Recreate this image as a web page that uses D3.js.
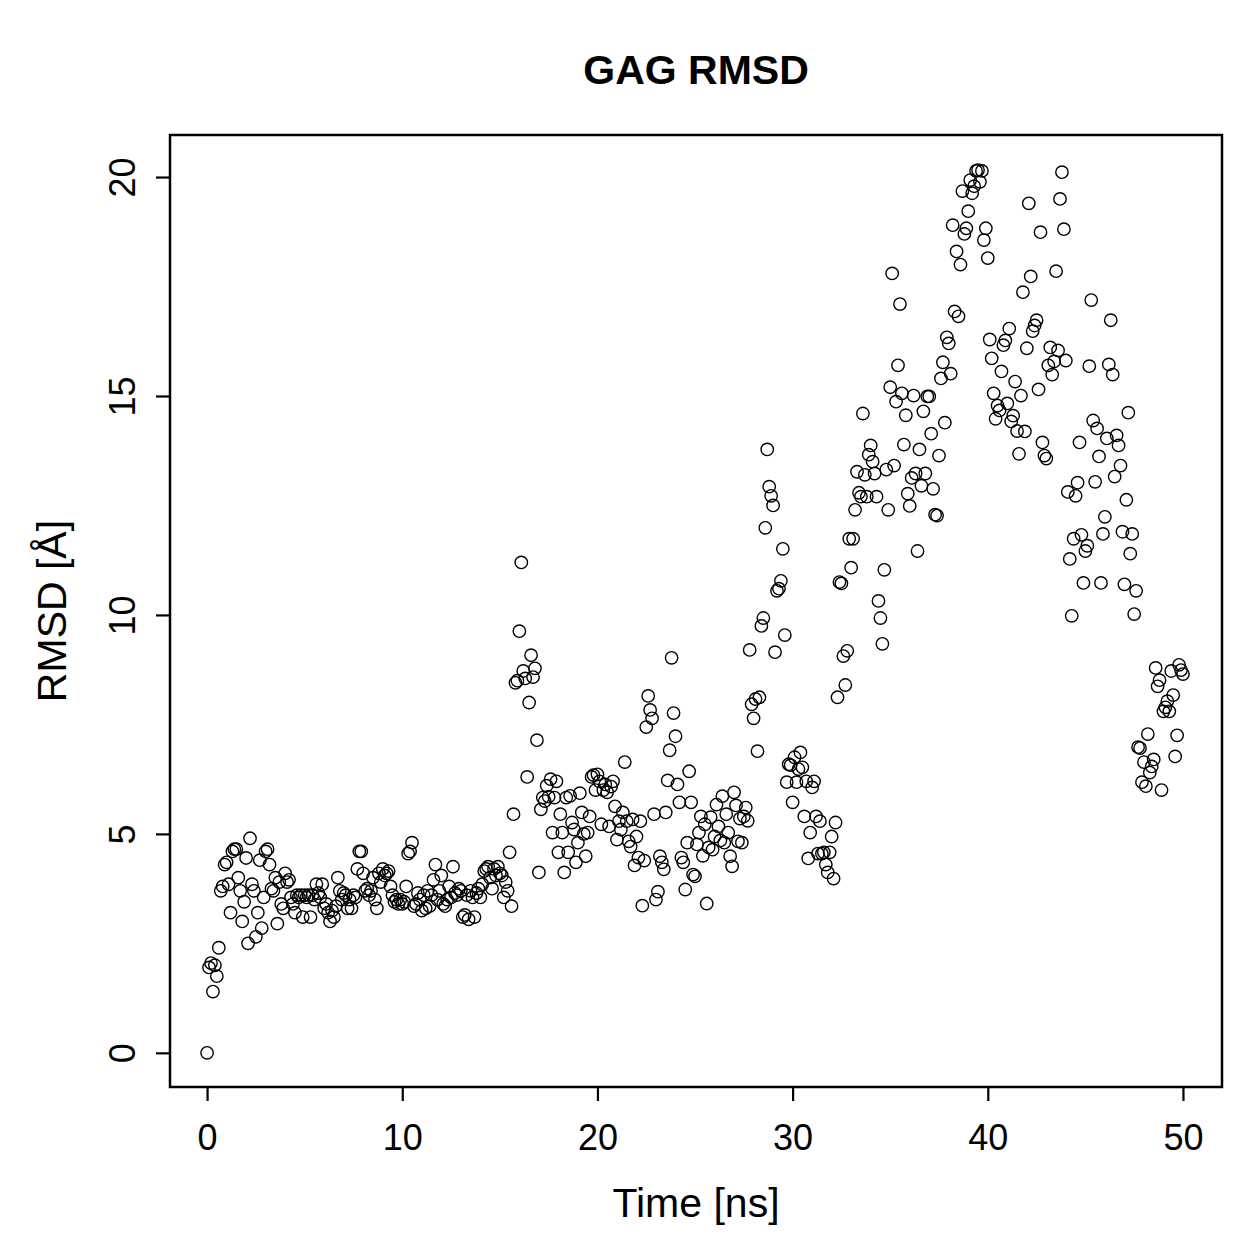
<!DOCTYPE html>
<html>
<head>
<meta charset="utf-8">
<script src="https://cdn.jsdelivr.net/npm/d3@7"></script>
<style>
  body { margin: 0; background: #fff; }
  text { font-family: "Liberation Sans", Arial, Helvetica, sans-serif; fill: #000; }
</style>
</head>
<body>
<div id="chart"></div>
<script>
// [time (ns), RMSD (Å)]
const rmsd0to10 = [
  [0.0,0.0],[0.1,1.95],[0.2,2.05],[0.3,1.4],[0.4,2.0],[0.5,1.75],[0.6,2.4],[0.7,3.7],[0.8,3.8],[0.9,4.3],
  [1.0,4.35],[1.1,3.85],[1.2,3.2],[1.3,4.6],[1.4,4.65],[1.5,4.65],[1.6,4.0],[1.7,3.7],[1.8,3.0],[1.9,3.45],
  [2.0,4.45],[2.1,2.5],[2.2,4.9],[2.3,3.85],[2.4,3.7],[2.5,2.65],[2.6,3.2],[2.7,4.4],[2.8,2.85],[2.9,3.55],
  [3.0,4.6],[3.1,4.65],[3.2,4.3],[3.3,3.75],[3.4,3.7],[3.5,4.0],[3.6,2.95],[3.7,3.9],[3.8,3.4],[3.9,3.3],
  [4.0,4.1],[4.1,3.9],[4.2,3.95],[4.3,3.55],[4.4,3.4],[4.5,3.2],[4.6,3.6],[4.7,3.55],[4.8,3.6],[4.9,3.1],
  [5.0,3.6],[5.1,3.55],[5.2,3.6],[5.3,3.1],[5.4,3.6],[5.5,3.5],[5.6,3.85],[5.7,3.65],[5.8,3.55],[5.9,3.85],
  [6.0,3.3],[6.1,3.4],[6.2,3.2],[6.3,3.0],[6.4,3.25],[6.5,3.1],[6.6,3.35],[6.7,4.0],[6.8,3.7],[6.9,3.5],
  [7.0,3.65],[7.1,3.6],[7.2,3.3],[7.3,3.5],[7.4,3.3],[7.5,3.6],[7.6,3.55],[7.7,4.2],[7.8,4.6],[7.9,4.6],
  [8.0,4.1],[8.1,3.7],[8.2,3.75],[8.3,3.6],[8.4,3.7],[8.5,4.0],[8.6,3.5],[8.7,3.3],[8.8,4.1],[8.9,3.9],
  [9.0,4.2],[9.1,4.05],[9.2,4.1],[9.3,4.15],[9.4,3.8],[9.5,3.6],[9.6,3.45],[9.7,3.5],[9.8,3.4],[9.9,3.5]
];

const rmsd10to20 = [
  [10.0,3.4],[10.1,3.45],[10.2,3.8],[10.3,4.55],[10.4,4.6],[10.5,4.8],[10.6,3.35],[10.7,3.4],[10.8,3.65],[10.9,3.5],
  [11.0,3.25],[11.1,3.6],[11.2,3.3],[11.3,3.7],[11.4,3.35],[11.5,3.6],[11.6,3.95],[11.7,4.3],[11.8,3.5],[11.9,3.7],
  [12.0,4.05],[12.1,3.4],[12.2,3.35],[12.3,3.5],[12.4,3.8],[12.5,3.55],[12.6,4.25],[12.7,3.65],[12.8,3.6],[12.9,3.75],
  [13.0,3.7],[13.1,3.1],[13.2,3.15],[13.3,3.6],[13.4,3.05],[13.5,3.7],[13.6,3.55],[13.7,3.1],[13.8,3.65],[13.9,3.75],
  [14.0,3.55],[14.1,3.85],[14.2,4.15],[14.3,4.2],[14.4,4.25],[14.5,4.0],[14.6,3.75],[14.7,4.2],[14.8,4.05],[14.9,4.25],
  [15.0,4.1],[15.1,4.05],[15.2,3.55],[15.3,3.9],[15.4,3.7],[15.5,4.58],[15.6,3.35],[15.7,5.45],[15.8,8.45],[15.9,8.5],
  [16.0,9.63],[16.1,11.2],[16.2,8.72],[16.3,8.55],[16.4,6.3],[16.5,8.0],[16.6,9.08],[16.7,8.58],[16.8,8.78],[16.9,7.14],
  [17.0,4.12],[17.1,5.56],[17.2,5.83],[17.3,5.75],[17.4,6.1],[17.5,5.85],[17.6,6.25],[17.7,5.03],[17.8,5.83],[17.9,6.2],
  [18.0,4.58],[18.1,5.45],[18.2,5.03],[18.3,4.12],[18.4,5.83],[18.5,4.58],[18.6,5.87],[18.7,5.26],[18.8,5.1],[18.9,4.35],
  [19.0,4.8],[19.1,5.93],[19.2,5.49],[19.3,5.0],[19.4,4.49],[19.5,5.03],[19.6,5.4],[19.7,6.3],[19.8,6.34],[19.9,6.0]
];

const rmsd20to30 = [
  [20.0,6.36],[20.1,6.2],[20.2,5.22],[20.3,6.0],[20.4,6.13],[20.5,5.95],[20.6,5.17],[20.7,6.08],[20.8,6.2],[20.9,5.63],
  [21.0,4.87],[21.1,5.29],[21.2,5.1],[21.3,5.49],[21.4,6.64],[21.5,5.29],[21.6,4.83],[21.7,4.71],[21.8,5.33],[21.9,4.28],
  [22.0,4.94],[22.1,4.46],[22.2,5.29],[22.3,3.36],[22.4,4.39],[22.5,7.44],[22.6,8.15],[22.7,7.83],[22.8,7.64],[22.9,5.45],
  [23.0,3.5],[23.1,3.68],[23.2,4.49],[23.3,4.35],[23.4,4.19],[23.5,5.49],[23.6,6.22],[23.7,6.91],[23.8,9.02],[23.9,7.76],
  [24.0,7.23],[24.1,6.13],[24.2,5.72],[24.3,4.46],[24.4,4.35],[24.5,3.73],[24.6,4.8],[24.7,6.43],[24.8,5.72],[24.9,4.07],
  [25.0,4.03],[25.1,4.76],[25.2,5.03],[25.3,5.4],[25.4,4.5],[25.5,5.22],[25.6,3.41],[25.7,4.69],[25.8,5.38],[25.9,4.64],
  [26.0,4.94],[26.1,5.67],[26.2,5.17],[26.3,4.85],[26.4,5.86],[26.5,4.8],[26.6,5.45],[26.7,5.03],[26.8,4.49],[26.9,4.26],
  [27.0,5.95],[27.1,5.65],[27.2,4.83],[27.3,5.35],[27.4,4.8],[27.5,5.4],[27.6,5.6],[27.7,5.3],[27.8,9.2],[27.9,7.96],
  [28.0,7.64],[28.1,8.08],[28.2,6.89],[28.3,8.12],[28.4,9.75],[28.5,9.93],[28.6,11.99],[28.7,13.78],[28.8,12.93],[28.9,12.72],
  [29.0,12.5],[29.1,9.15],[29.2,10.55],[29.3,10.6],[29.4,10.78],[29.5,11.51],[29.6,9.54],[29.7,6.18],[29.8,6.59],[29.9,6.57]
];

const rmsd30to40 = [
  [30.0,5.72],[30.1,6.75],[30.2,6.18],[30.3,6.48],[30.4,6.86],[30.5,6.52],[30.6,5.4],[30.7,6.2],[30.8,4.44],[30.9,5.03],
  [31.0,6.06],[31.1,6.2],[31.2,5.4],[31.3,4.55],[31.4,5.29],[31.5,4.55],[31.6,4.58],[31.7,4.3],[31.8,4.12],[31.9,4.58],
  [32.0,4.94],[32.1,3.98],[32.2,5.26],[32.3,8.12],[32.4,10.75],[32.5,10.72],[32.6,9.06],[32.7,8.4],[32.8,9.18],[32.9,11.74],
  [33.0,11.08],[33.1,11.74],[33.2,12.4],[33.3,13.27],[33.4,12.79],[33.5,12.7],[33.6,14.6],[33.7,13.2],[33.8,12.7],[33.9,13.66],
  [34.0,13.87],[34.1,13.5],[34.2,13.23],[34.3,12.7],[34.4,10.32],[34.5,9.93],[34.6,9.34],[34.7,11.03],[34.8,13.32],[34.9,12.4],
  [35.0,15.2],[35.1,17.8],[35.2,13.41],[35.3,14.87],[35.4,15.7],[35.5,17.1],[35.6,15.06],[35.7,13.89],[35.8,14.56],[35.9,12.77],
  [36.0,12.49],[36.1,13.13],[36.2,15.01],[36.3,13.23],[36.4,11.46],[36.5,13.78],[36.6,12.95],[36.7,14.65],[36.8,13.23],[36.9,14.99],
  [37.0,14.99],[37.1,14.14],[37.2,12.88],[37.3,12.29],[37.4,12.27],[37.5,13.64],[37.6,15.4],[37.7,15.77],[37.8,14.39],[37.9,16.34],
  [38.0,16.2],[38.1,15.51],[38.2,18.9],[38.3,16.93],[38.4,18.3],[38.5,16.82],[38.6,18.0],[38.7,19.68],[38.8,18.7],[38.9,18.83],
  [39.0,19.22],[39.1,19.93],[39.2,19.63],[39.3,19.79],[39.4,20.14],[39.5,20.16],[39.6,19.89],[39.7,20.14],[39.8,18.56],[39.9,18.83]
];

const rmsd40to50 = [
  [40.0,18.15],[40.1,16.29],[40.2,15.86],[40.3,15.06],[40.4,14.48],[40.5,14.78],[40.6,14.67],[40.7,15.56],[40.8,16.16],[40.9,16.27],
  [41.0,14.83],[41.1,16.54],[41.2,14.42],[41.3,14.55],[41.4,15.33],[41.5,14.2],[41.6,13.68],[41.7,15.01],[41.8,17.37],[41.9,14.19],
  [42.0,16.09],[42.1,19.4],[42.2,17.73],[42.3,16.48],[42.4,16.61],[42.5,16.73],[42.6,15.15],[42.7,18.74],[42.8,13.94],[42.9,13.64],
  [43.0,13.57],[43.1,15.7],[43.2,16.11],[43.3,15.49],[43.4,15.79],[43.5,17.85],[43.6,16.04],[43.7,19.5],[43.8,20.11],[43.9,18.81],
  [44.0,15.81],[44.1,12.81],[44.2,11.28],[44.3,9.98],[44.4,11.74],[44.5,12.72],[44.6,13.02],[44.7,13.94],[44.8,11.83],[44.9,10.73],
  [45.0,11.46],[45.1,11.58],[45.2,15.68],[45.3,17.19],[45.4,14.44],[45.5,13.04],[45.6,14.26],[45.7,13.62],[45.8,10.73],[45.9,11.85],
  [46.0,12.24],[46.1,14.03],[46.2,15.72],[46.3,16.73],[46.4,15.49],[46.5,13.16],[46.6,14.1],[46.7,13.87],[46.8,13.41],[46.9,11.9],
  [47.0,10.7],[47.1,12.63],[47.2,14.62],[47.3,11.4],[47.4,11.85],[47.5,10.02],[47.6,10.55],[47.7,6.98],[47.8,6.96],[47.9,6.18],
  [48.0,6.64],[48.1,6.09],[48.2,7.28],[48.3,6.4],[48.4,6.54],[48.5,6.7],[48.6,8.79],[48.7,8.37],[48.8,8.51],[48.9,6.0],
  [49.0,7.8],[49.1,7.89],[49.2,8.03],[49.3,7.8],[49.4,8.72],[49.5,8.17],[49.6,6.77],[49.7,7.25],[49.8,8.86],[49.9,8.74],
  [50.0,8.65]
];

const xTicks = [0, 10, 20, 30, 40, 50];
const yTicks = [0, 5, 10, 15, 20];
const xDomain = [-1.9, 52.0];
const yDomain = [-0.78, 20.96];
const title = "GAG RMSD";
const xLabel = "Time [ns]";
const yLabel = "RMSD [Å]";

const data = [].concat(rmsd0to10, rmsd10to20, rmsd20to30, rmsd30to40, rmsd40to50);

const width = 1259;
const height = 1259;
const plot = { left: 170, right: 1222, top: 135, bottom: 1087 };

const x = d3.scaleLinear().domain(xDomain).range([plot.left, plot.right]);
const y = d3.scaleLinear().domain(yDomain).range([plot.bottom, plot.top]);

const svg = d3.select("#chart")
  .append("svg")
  .attr("width", width)
  .attr("height", height)
  .attr("viewBox", [0, 0, width, height]);

svg.append("rect")
  .attr("width", width)
  .attr("height", height)
  .attr("fill", "#fff");

// points (open circles)
svg.append("g")
  .selectAll("circle")
  .data(data)
  .join("circle")
  .attr("cx", (d) => x(d[0]))
  .attr("cy", (d) => y(d[1]))
  .attr("r", 6.2)
  .attr("fill", "none")
  .attr("stroke", "#000")
  .attr("stroke-width", 1.4);

// x axis
const xAxis = svg.append("g")
  .attr("transform", `translate(0,${plot.bottom})`)
  .call(d3.axisBottom(x).tickValues(xTicks).tickSize(14).tickSizeOuter(0).tickPadding(0).tickFormat(d3.format("d")));
xAxis.select(".domain").remove();
xAxis.selectAll(".tick line").attr("stroke-width", 2.2);
xAxis.selectAll(".tick text")
  .attr("y", 63)
  .attr("dy", null)
  .attr("font-size", 36)
  .attr("font-family", '"Liberation Sans", Arial, sans-serif');

// y axis
const yAxis = svg.append("g")
  .attr("transform", `translate(${plot.left},0)`)
  .call(d3.axisLeft(y).tickValues(yTicks).tickSize(14).tickSizeOuter(0).tickFormat(d3.format("d")));
yAxis.select(".domain").remove();
yAxis.selectAll(".tick line").attr("stroke-width", 2.2);
yAxis.selectAll(".tick text")
  .attr("x", null)
  .attr("dy", null)
  .attr("text-anchor", "middle")
  .attr("transform", "translate(-35,0) rotate(-90)")
  .attr("font-size", 36)
  .attr("font-family", '"Liberation Sans", Arial, sans-serif');

// box
svg.append("rect")
  .attr("x", plot.left)
  .attr("y", plot.top)
  .attr("width", plot.right - plot.left)
  .attr("height", plot.bottom - plot.top)
  .attr("fill", "none")
  .attr("stroke", "#000")
  .attr("stroke-width", 2.5);

// title + labels
svg.append("text")
  .attr("x", (plot.left + plot.right) / 2)
  .attr("y", 84)
  .attr("text-anchor", "middle")
  .attr("font-size", 41)
  .attr("font-weight", "bold")
  .text(title);

svg.append("text")
  .attr("x", (plot.left + plot.right) / 2)
  .attr("y", 1217)
  .attr("text-anchor", "middle")
  .attr("font-size", 41)
  .text(xLabel);

svg.append("text")
  .attr("transform", `translate(66,${(plot.top + plot.bottom) / 2}) rotate(-90)`)
  .attr("text-anchor", "middle")
  .attr("font-size", 41)
  .text(yLabel);
</script>
</body>
</html>
